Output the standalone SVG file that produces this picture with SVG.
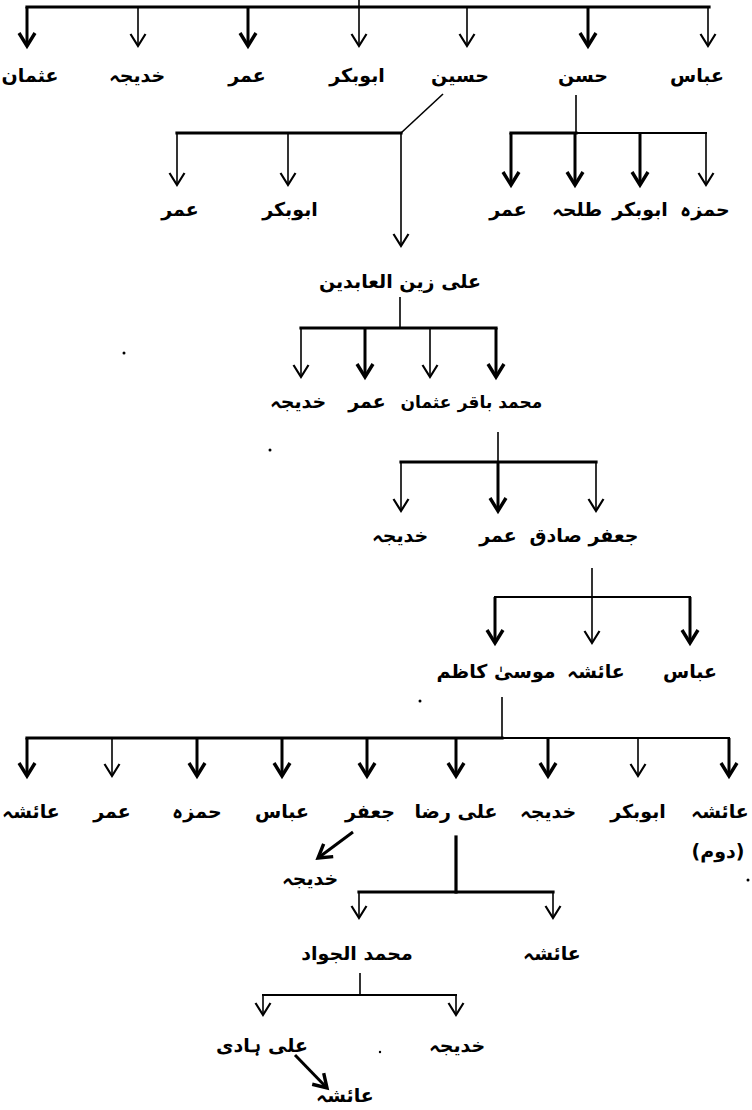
<svg xmlns="http://www.w3.org/2000/svg" width="752" height="1110" viewBox="0 0 752 1110">
  <style>
    .lbl { font-family: "DejaVu Sans", "Noto Sans", sans-serif; font-size: 19px; font-weight: bold; fill: #000; text-anchor: middle; direction: rtl; }
    .ltr { direction: ltr; }
    .sm { font-size: 17px; }
    .bar { stroke: #000; stroke-width: 3.2; fill: none; stroke-linecap: square; }
    .bar2 { stroke: #000; stroke-width: 2; fill: none; stroke-linecap: square; }
    .thk { stroke: #000; stroke-width: 3; fill: none; marker-end: url(#hThk); }
    .thn { stroke: #000; stroke-width: 1.6; fill: none; marker-end: url(#hThn); }
    .ln { stroke: #000; stroke-width: 1.6; fill: none; }
  </style>
  <defs>
    <marker id="hThk" markerUnits="userSpaceOnUse" markerWidth="22" markerHeight="22" viewBox="-16 -11 20 22" refX="0" refY="0" orient="auto" overflow="visible">
      <path d="M-13,-8 L0,0 L-13,8" fill="none" stroke="#000" stroke-width="3.4" stroke-linejoin="miter"/>
    </marker>
    <marker id="hThn" markerUnits="userSpaceOnUse" markerWidth="22" markerHeight="22" viewBox="-16 -11 20 22" refX="0" refY="0" orient="auto" overflow="visible">
      <path d="M-12,-7.5 L0,0 L-12,7.5" fill="none" stroke="#000" stroke-width="2.2" stroke-linejoin="miter"/>
    </marker>
  </defs>
  <rect width="752" height="1110" fill="#fff"/>

  <g id="connectors">
    <!-- top generation -->
    <path class="ln" d="M359,0 V7"/>
    <path class="bar" d="M27,7 H709"/>
    <path class="thk" d="M27,7 V46"/>
    <path class="thn" d="M138,7 V46"/>
    <path class="thk" d="M248,7 V46"/>
    <path class="thn" d="M359,7 V46"/>
    <path class="thn" d="M467,7 V46"/>
    <path class="thk" d="M588,7 V46"/>
    <path class="thn" d="M708,7 V46"/>

    <!-- Husain's children -->
    <path class="ln" d="M443,94 L401,133"/>
    <path class="bar" d="M177,133 H401"/>
    <path class="thn" d="M177,133 V185"/>
    <path class="thn" d="M288,133 V185"/>
    <path class="thn" d="M401,133 V246"/>

    <!-- Hasan's children -->
    <path class="ln" d="M576,95 V133"/>
    <path class="bar" d="M511,133 H576"/>
    <path class="bar2" d="M576,133 H706"/>
    <path class="thk" d="M511,133 V185"/>
    <path class="thk" d="M575,133 V185"/>
    <path class="thk" d="M640,133 V185"/>
    <path class="thn" d="M706,133 V185"/>

    <!-- Ali Zain al-Abidin's children -->
    <path class="ln" d="M400,297 V328"/>
    <path class="bar" d="M301,328 H496"/>
    <path class="thn" d="M301,328 V377"/>
    <path class="thk" d="M365,328 V377"/>
    <path class="thn" d="M430,328 V377"/>
    <path class="thk" d="M496,328 V377"/>

    <!-- Muhammad Baqir's children -->
    <path class="ln" d="M498,432 V462"/>
    <path class="bar" d="M401,462 H596"/>
    <path class="thn" d="M401,462 V511"/>
    <path class="thk" d="M498,462 V511"/>
    <path class="thn" d="M596,462 V511"/>

    <!-- Jafar Sadiq's children -->
    <path class="ln" d="M592,568 V597"/>
    <path class="bar2" d="M495,597 H690"/>
    <path class="thk" d="M495,597 V643"/>
    <path class="thn" d="M592,597 V643"/>
    <path class="thk" d="M690,597 V643"/>

    <!-- Musa Kazim's children -->
    <path class="ln" d="M502,697 V738"/>
    <path class="bar" d="M27,738 H502"/>
    <path class="bar2" d="M502,738 H729"/>
    <path class="thk" d="M27,738 V776"/>
    <path class="thn" d="M112,738 V776"/>
    <path class="thk" d="M197,738 V776"/>
    <path class="thk" d="M282,738 V776"/>
    <path class="thk" d="M367,738 V776"/>
    <path class="thk" d="M456,738 V776"/>
    <path class="thk" d="M548,738 V776"/>
    <path class="thn" d="M638,738 V776"/>
    <path class="thk" d="M729,738 V776"/>
    <path class="thk" d="M353,832 L318,858"/>

    <!-- Ali Rida's children -->
    <path class="bar" d="M456,837 V892"/>
    <path class="bar" d="M359,892 H553"/>
    <path class="thn" d="M359,892 V918"/>
    <path class="thn" d="M553,892 V918"/>

    <!-- Muhammad al-Jawad's children -->
    <path class="ln" d="M360,973 V995"/>
    <path class="bar2" d="M263,995 H456"/>
    <path class="thn" d="M263,995 V1015"/>
    <path class="thn" d="M456,995 V1015"/>
    <path class="thk" d="M295,1055 L327,1088"/>
  </g>

  <!-- generation 1 -->
  <g id="n-usman1"><text class="lbl" x="30" y="82">عثمان</text></g>
  <g id="n-khadija1"><text class="lbl" x="137" y="82">خدیجہ</text></g>
  <g id="n-umar1"><text class="lbl" x="247" y="82">عمر</text></g>
  <g id="n-abubakr1"><text class="lbl" x="357" y="82">ابوبکر</text></g>
  <g id="n-husain"><text class="lbl" x="460" y="82">حسین</text></g>
  <g id="n-hasan"><text class="lbl" x="583" y="82">حسن</text></g>
  <g id="n-abbas1"><text class="lbl" x="697" y="82">عباس</text></g>

  <!-- Husain's line -->
  <g id="n-umar2"><text class="lbl" x="180" y="216">عمر</text></g>
  <g id="n-abubakr2"><text class="lbl" x="290" y="216">ابوبکر</text></g>
  <!-- Hasan's line -->
  <g id="n-umar3"><text class="lbl" x="508" y="216">عمر</text></g>
  <g id="n-talha"><text class="lbl" x="577" y="216">طلحہ</text></g>
  <g id="n-abubakr3"><text class="lbl" x="640" y="216">ابوبکر</text></g>
  <g id="n-hamza1"><text class="lbl" x="705" y="216">حمزہ</text></g>

  <g id="n-alizain"><text class="lbl" x="400" y="288">علی زین العابدین</text></g>

  <g id="n-khadija2"><text class="lbl" x="298" y="408">خدیجہ</text></g>
  <g id="n-umar4"><text class="lbl" x="367" y="408">عمر</text></g>
  <g id="n-usman2"><text class="lbl sm" x="426" y="408">عثمان</text></g>
  <g id="n-baqir"><text class="lbl sm" x="500" y="408">محمد باقر</text></g>

  <g id="n-khadija3"><text class="lbl" x="400" y="542">خدیجہ</text></g>
  <g id="n-umar5"><text class="lbl" x="498" y="542">عمر</text></g>
  <g id="n-jafar"><text class="lbl" x="584" y="542">جعفر صادق</text></g>

  <g id="n-musa"><text class="lbl" x="496" y="678">موسیٰ کاظم</text></g>
  <g id="n-aisha1"><text class="lbl" x="596" y="678">عائشہ</text></g>
  <g id="n-abbas2"><text class="lbl" x="690" y="678">عباس</text></g>

  <g id="n-aisha2"><text class="lbl" x="31" y="818">عائشہ</text></g>
  <g id="n-umar6"><text class="lbl" x="112" y="818">عمر</text></g>
  <g id="n-hamza2"><text class="lbl" x="197" y="818">حمزہ</text></g>
  <g id="n-abbas3"><text class="lbl" x="282" y="818">عباس</text></g>
  <g id="n-jafar2"><text class="lbl" x="370" y="818">جعفر</text></g>
  <g id="n-alirida"><text class="lbl" x="456" y="818">علی رضا</text></g>
  <g id="n-khadija4"><text class="lbl" x="548" y="818">خدیجہ</text></g>
  <g id="n-abubakr4"><text class="lbl" x="638" y="818">ابوبکر</text></g>
  <g id="n-aisha3"><text class="lbl" x="720" y="818">عائشہ</text><text class="lbl ltr" x="718" y="858">(دوم)</text></g>
  <g id="n-khadija5"><text class="lbl" x="310" y="885">خدیجہ</text></g>

  <g id="n-jawad"><text class="lbl" x="357" y="960">محمد الجواد</text></g>
  <g id="n-aisha4"><text class="lbl" x="552" y="960">عائشہ</text></g>

  <g id="n-alihadi"><text class="lbl" x="262" y="1052">علی ہادی</text></g>
  <g id="n-khadija6"><text class="lbl" x="457" y="1052">خدیجہ</text></g>
  <g id="n-aisha5"><text class="lbl" x="345" y="1102">عائشہ</text></g>

  <!-- stray specks -->
  <g fill="#000">
    <circle cx="124" cy="353" r="1.5"/>
    <circle cx="270" cy="450" r="1.5"/>
    <circle cx="420" cy="701" r="1.5"/>
    <circle cx="380" cy="1052" r="1.2"/>
    <circle cx="748" cy="880" r="1.5"/>
  </g>
</svg>
